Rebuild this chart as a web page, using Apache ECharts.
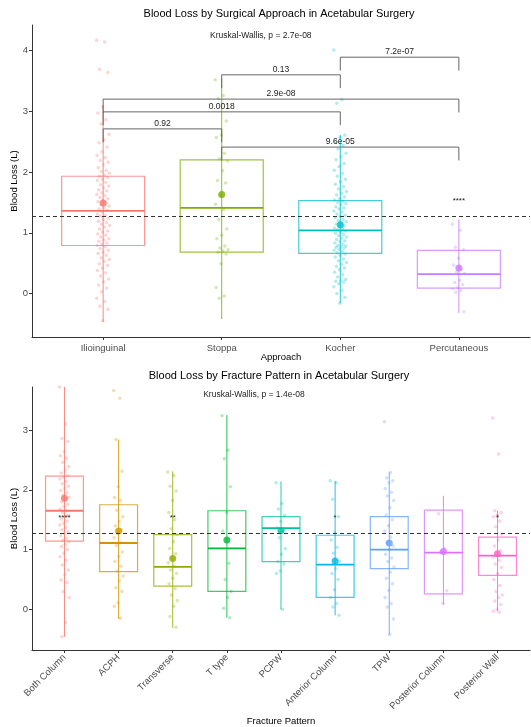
<!DOCTYPE html>
<html>
<head>
<meta charset="utf-8">
<script src="https://cdn.jsdelivr.net/npm/echarts@6/dist/echarts.min.js"></script>
<style>
  html, body { margin: 0; padding: 0; background: #fff; }
  #chart { width: 531px; height: 727px; }
</style>
</head>
<body>
<div id="chart"></div>
<script>
// ---- top panel: surgical approach ----
const approaches = ['Ilioinguinal', 'Stoppa', 'Kocher', 'Percutaneous'];
const apQ1 = [0.79, 0.68, 0.66, 0.09];
const apMedian = [1.36, 1.41, 1.04, 0.32];
const apQ3 = [1.93, 2.20, 1.53, 0.71];
const apMean = [1.49, 1.63, 1.13, 0.42];
const apLow = [-0.47, -0.42, -0.16, -0.32];
const apHigh = [3.10, 3.54, 2.61, 1.22];

const ilioinguinalPts = [4.17, 4.14, 3.69, 3.64, 3.07, 2.97, 2.86, 2.79, 2.62, 2.53, 2.48, 2.41, 2.33, 2.27, 2.24, 2.19, 2.16, 2.12, 2.07, 2.03, 2.01, 1.98, 1.95, 1.93, 1.91, 1.88, 1.86, 1.83, 1.79, 1.77, 1.74, 1.71, 1.69, 1.66, 1.63, 1.61, 1.58, 1.56, 1.53, 1.51, 1.49, 1.46, 1.44, 1.41, 1.39, 1.37, 1.34, 1.31, 1.29, 1.27, 1.24, 1.22, 1.19, 1.17, 1.14, 1.12, 1.09, 1.06, 1.03, 1.01, 0.98, 0.96, 0.93, 0.90, 0.88, 0.86, 0.83, 0.81, 0.79, 0.77, 0.74, 0.71, 0.68, 0.66, 0.63, 0.59, 0.56, 0.53, 0.49, 0.46, 0.42, 0.38, 0.34, 0.29, 0.24, 0.19, 0.14, 0.09, 0.03, -0.08, -0.13, -0.21, -0.26, -0.45];
const stoppaPts = [3.52, 3.26, 3.21, 2.84, 2.61, 2.57, 2.31, 2.22, 2.18, 2.02, 1.86, 1.82, 1.61, 1.47, 1.38, 1.22, 1.06, 0.96, 0.90, 0.78, 0.75, 0.72, 0.70, 0.68, 0.65, 0.49, 0.10, -0.04, -0.08];
const kocherPts = [4.01, 3.19, 3.13, 2.61, 2.57, 2.50, 2.44, 2.38, 2.31, 2.25, 2.20, 2.14, 2.09, 2.03, 1.98, 1.93, 1.88, 1.84, 1.80, 1.76, 1.72, 1.68, 1.65, 1.62, 1.59, 1.56, 1.54, 1.52, 1.50, 1.48, 1.46, 1.43, 1.41, 1.39, 1.36, 1.34, 1.31, 1.29, 1.27, 1.25, 1.22, 1.20, 1.18, 1.16, 1.14, 1.12, 1.10, 1.08, 1.06, 1.05, 1.03, 1.01, 0.99, 0.97, 0.95, 0.93, 0.91, 0.89, 0.87, 0.85, 0.83, 0.81, 0.79, 0.78, 0.77, 0.76, 0.75, 0.73, 0.71, 0.69, 0.67, 0.65, 0.63, 0.60, 0.57, 0.54, 0.51, 0.48, 0.45, 0.42, 0.39, 0.35, 0.31, 0.27, 0.23, 0.21, 0.20, 0.19, 0.16, 0.11, 0.05, 0.00, -0.06, -0.16];
const percutaneousPts = [1.14, 1.04, 0.76, 0.72, 0.58, 0.47, 0.40, 0.36, 0.33, 0.22, 0.18, 0.15, 0.10, 0.08, 0.05, 0.02, -0.30];
const apPoints = [ilioinguinalPts, stoppaPts, kocherPts, percutaneousPts];

// pairwise comparisons
const bracketFrom = [1, 1, 1, 2, 2, 3];
const bracketTo = [2, 3, 4, 3, 4, 4];
const bracketY = [2.71, 2.99, 3.20, 3.60, 2.41, 3.89];
const bracketP = ['0.92', '0.0018', '2.9e-08', '0.13', '9.6e-05', '7.2e-07'];
const apStars = ['', '', '', '****'];

// ---- bottom panel: fracture pattern ----
const fractures = ['Both Column', 'ACPH', 'Transverse', 'T type', 'PCPW', 'Anterior Column', 'TPW', 'Posterior Column', 'Posterior Wall'];
const frQ1 = [1.14, 0.63, 0.39, 0.30, 0.80, 0.20, 0.68, 0.26, 0.57];
const frMedian = [1.65, 1.11, 0.71, 1.02, 1.36, 0.75, 1.00, 0.95, 0.90];
const frQ3 = [2.23, 1.75, 1.25, 1.65, 1.55, 1.24, 1.55, 1.66, 1.21];
const frMean = [1.86, 1.31, 0.85, 1.16, 1.32, 0.81, 1.11, 0.97, 0.93];
const frLow = [-0.46, -0.16, -0.31, -0.14, 0.00, -0.10, -0.42, 0.08, -0.03];
const frHigh = [3.72, 2.84, 2.31, 3.25, 2.14, 2.15, 2.29, 1.90, 1.65];

const bothColumnPts = [3.72, 3.10, 2.86, 2.81, 2.64, 2.57, 2.53, 2.46, 2.39, 2.33, 2.28, 2.24, 2.21, 2.18, 2.14, 2.10, 2.06, 2.02, 1.99, 1.95, 1.91, 1.87, 1.84, 1.80, 1.76, 1.72, 1.68, 1.65, 1.62, 1.58, 1.55, 1.51, 1.48, 1.44, 1.41, 1.37, 1.33, 1.30, 1.27, 1.23, 1.19, 1.16, 1.13, 1.09, 1.05, 1.00, 0.94, 0.88, 0.82, 0.74, 0.66, 0.58, 0.49, 0.45, 0.30, 0.20, -0.22, -0.46];
const acphPts = [3.66, 3.53, 2.84, 2.31, 2.05, 1.87, 1.82, 1.66, 1.55, 1.47, 1.40, 1.33, 1.27, 1.20, 1.12, 1.07, 0.96, 0.88, 0.80, 0.72, 0.64, 0.56, 0.48, 0.36, 0.30, 0.11, 0.05, -0.15];
const transversePts = [2.30, 2.24, 2.06, 1.98, 1.82, 1.62, 1.50, 1.35, 1.25, 1.13, 1.02, 0.93, 0.86, 0.78, 0.72, 0.66, 0.60, 0.52, 0.43, 0.35, 0.24, 0.15, 0.05, -0.12, -0.30];
const tTypePts = [3.24, 2.66, 2.52, 2.05, 1.62, 1.31, 0.77, 0.50, 0.30, 0.20, 0.02, -0.14];
const pcpwPts = [2.12, 1.77, 1.68, 1.57, 1.47, 1.36, 1.31, 1.20, 1.02, 0.92, 0.80, 0.76, 0.64, 0.60, 0.00];
const anteriorColumnPts = [2.15, 2.12, 1.84, 1.55, 1.28, 1.16, 1.04, 0.94, 0.80, 0.68, 0.60, 0.50, 0.33, 0.20, 0.10, 0.04, -0.10];
const tpwPts = [3.14, 2.29, 2.20, 2.15, 2.12, 2.02, 1.96, 1.90, 1.82, 1.70, 1.58, 1.50, 1.40, 1.31, 1.21, 1.12, 1.06, 1.00, 0.92, 0.86, 0.80, 0.71, 0.62, 0.52, 0.43, 0.32, 0.20, 0.10, 0.04, -0.16, -0.42];
const posteriorColumnPts = [1.60, 1.02, 0.97, 0.31, 0.10];
const posteriorWallPts = [3.20, 2.60, 1.65, 1.62, 1.58, 1.55, 1.48, 1.38, 1.26, 1.16, 1.06, 0.98, 0.93, 0.88, 0.82, 0.76, 0.70, 0.60, 0.50, 0.40, 0.30, 0.24, 0.20, 0.14, 0.08, 0.00, -0.03, -0.05];
const frPoints = [bothColumnPts, acphPts, transversePts, tTypePts, pcpwPts, anteriorColumnPts, tpwPts, posteriorColumnPts, posteriorWallPts];
const frStars = ['****', '', '**', '', '', '*', '', '', '*'];

const overallMean = 1.27;
const apKruskal = 'Kruskal-Wallis, p = 2.7e-08';
const frKruskal = 'Kruskal-Wallis, p = 1.4e-08';

// ---- styling ----
const apColors = ['#F8766D', '#7CAE00', '#00BFC4', '#C77CFF'];
const frColors = ['#F8766D', '#D39200', '#93AA00', '#00BA38', '#00C19F', '#00B9E3', '#619CFF', '#DB72FB', '#FF61C3'];
const FONT = '"Liberation Sans", Arial, sans-serif';
const BOX_HALF = 0.35;
const STAR_Y = 1.53;

// spread jittered points sideways (deterministic)
const jit = (i, w) => ((i * 0.618034) % 1 - 0.5) * 2 * w;

function boxSeries(idx, q1, med, q3, lo, hi, colors) {
  return {
    type: 'custom', xAxisIndex: idx, yAxisIndex: idx, clip: true, z: 2, silent: true,
    data: q1.map((v, i) => [i + 1, v, med[i], q3[i], lo[i], hi[i]]),
    encode: { x: 0, y: [1, 2, 3, 4, 5] },
    renderItem: (params, api) => {
      const x = api.value(0);
      const c = colors[params.dataIndex];
      const tl = api.coord([x - BOX_HALF, api.value(3)]);
      const br = api.coord([x + BOX_HALF, api.value(1)]);
      const m0 = api.coord([x - BOX_HALF, api.value(2)]);
      const m1 = api.coord([x + BOX_HALF, api.value(2)]);
      const v0 = api.coord([x, api.value(4)]);
      const v1 = api.coord([x, api.value(5)]);
      return {
        type: 'group', children: [
          { type: 'rect', shape: { x: tl[0], y: tl[1], width: br[0] - tl[0], height: br[1] - tl[1] },
            style: { fill: 'none', stroke: c, lineWidth: 1.2, opacity: 0.75 } },
          { type: 'line', shape: { x1: m0[0], y1: m0[1], x2: m1[0], y2: m1[1] },
            style: { stroke: c, lineWidth: 1.8 } },
          { type: 'line', shape: { x1: v0[0], y1: v0[1], x2: v1[0], y2: v1[1] },
            style: { stroke: c, lineWidth: 1, opacity: 0.85 } }
        ]
      };
    }
  };
}

function pointSeries(idx, groups, colors, w) {
  return groups.map((vals, g) => ({
    type: 'scatter', xAxisIndex: idx, yAxisIndex: idx, z: 3, silent: true,
    symbolSize: 3.5,
    itemStyle: { color: colors[g], opacity: 0.3 },
    data: vals.map((v, i) => [g + 1 + jit(i, w), v])
  }));
}

function meanSeries(idx, means, colors) {
  return {
    type: 'scatter', xAxisIndex: idx, yAxisIndex: idx, z: 4, silent: true,
    symbolSize: 7,
    data: means.map((v, i) => ({ value: [i + 1, v], itemStyle: { color: colors[i] } })),
    markLine: {
      silent: true, symbol: 'none', label: { show: false },
      lineStyle: { type: [4, 3], color: '#333', width: 1 },
      data: [{ yAxis: overallMean }]
    }
  };
}

function textSeries(idx, xs, ys, texts, size, color) {
  return {
    type: 'custom', xAxisIndex: idx, yAxisIndex: idx, z: 5, silent: true,
    data: xs.map((x, i) => [x, ys[i]]),
    renderItem: (params, api) => {
      const p = api.coord([api.value(0), api.value(1)]);
      return { type: 'text', style: { text: texts[params.dataIndex], x: p[0], y: p[1],
        align: 'center', verticalAlign: 'middle', font: size + 'px ' + FONT, fill: color } };
    }
  };
}

function bracketSeries(idx) {
  const tip = 0.22;
  return {
    type: 'custom', xAxisIndex: idx, yAxisIndex: idx, z: 5, silent: true,
    data: bracketFrom.map((f, i) => [f, bracketTo[i], bracketY[i]]),
    encode: { x: [0, 1], y: 2 },
    renderItem: (params, api) => {
      const a = api.value(0), b = api.value(1), y = api.value(2);
      const p0 = api.coord([a, y - tip]), p1 = api.coord([a, y]);
      const p2 = api.coord([b, y]), p3 = api.coord([b, y - tip]);
      const mid = api.coord([(a + b) / 2, y]);
      return {
        type: 'group', children: [
          { type: 'polyline', shape: { points: [p0, p1, p2, p3] },
            style: { stroke: '#666', fill: null, lineWidth: 1 } },
          { type: 'text', style: { text: bracketP[params.dataIndex], x: mid[0], y: mid[1] - 5.5,
            align: 'center', verticalAlign: 'middle', font: '8.5px ' + FONT, fill: '#222' } }
        ]
      };
    }
  };
}

function xAxis(idx, names, max, title, gap, rotate) {
  const ticks = names.map((n, i) => i + 1);
  return {
    gridIndex: idx, type: 'value', min: 0.4, max: max,
    axisLine: { show: true, onZero: false, lineStyle: { color: '#333', width: 1 } },
    axisTick: { show: true, length: 3, customValues: ticks, lineStyle: { color: '#333' } },
    axisLabel: { customValues: ticks, formatter: v => names[Math.round(v) - 1] || '',
      rotate: rotate, margin: 6, color: '#4D4D4D', fontSize: 9.5, fontFamily: FONT },
    splitLine: { show: false },
    name: title, nameLocation: 'middle', nameGap: gap, nameMoveOverlap: false,
    nameTextStyle: { color: '#000', fontSize: 9.5, fontFamily: FONT }
  };
}

function yAxis(idx, min, max, ticks) {
  return {
    gridIndex: idx, type: 'value', min: min, max: max,
    axisLine: { show: true, onZero: false, lineStyle: { color: '#333', width: 1 } },
    axisTick: { show: true, length: 3, customValues: ticks, lineStyle: { color: '#333' } },
    axisLabel: { customValues: ticks, margin: 4, color: '#4D4D4D', fontSize: 9.5, fontFamily: FONT },
    splitLine: { show: false },
    name: 'Blood Loss (L)', nameLocation: 'middle', nameGap: 13, nameMoveOverlap: false,
    nameTextStyle: { color: '#000', fontSize: 9.5, fontFamily: FONT }
  };
}

const chart = echarts.init(document.getElementById('chart'), null, { renderer: 'canvas' });

const option = {
  animation: false,
  backgroundColor: '#fff',
  graphic: [
    { type: 'text', x: 279, y: 14, style: { text: 'Blood Loss by Surgical Approach in Acetabular Surgery',
      align: 'center', verticalAlign: 'middle', font: '11px ' + FONT, fill: '#000' } },
    { type: 'text', x: 279, y: 376, style: { text: 'Blood Loss by Fracture Pattern in Acetabular Surgery',
      align: 'center', verticalAlign: 'middle', font: '11px ' + FONT, fill: '#000' } }
  ],
  grid: [
    { left: 32, right: 1, top: 25, height: 312, outerBoundsMode: 'none', containLabel: false },
    { left: 32, right: 1, top: 387, height: 263, outerBoundsMode: 'none', containLabel: false }
  ],
  xAxis: [
    xAxis(0, approaches, 4.6, 'Approach', 15, 0),
    xAxis(1, fractures, 9.6, 'Fracture Pattern', 66, 45)
  ],
  yAxis: [
    yAxis(0, -0.716, 4.42, [0, 1, 2, 3, 4]),
    yAxis(1, -0.68, 3.72, [0, 1, 2, 3])
  ],
  series: [
    boxSeries(0, apQ1, apMedian, apQ3, apLow, apHigh, apColors),
    ...pointSeries(0, apPoints, apColors, 0.055),
    meanSeries(0, apMean, apColors),
    bracketSeries(0),
    textSeries(0, approaches.map((n, i) => i + 1), approaches.map(() => STAR_Y), apStars, 8, '#222'),
    textSeries(0, [2.33], [4.24], [apKruskal], 8.5, '#222'),

    boxSeries(1, frQ1, frMedian, frQ3, frLow, frHigh, frColors),
    ...pointSeries(1, frPoints, frColors, 0.09),
    meanSeries(1, frMean, frColors),
    textSeries(1, fractures.map((n, i) => i + 1), fractures.map(() => STAR_Y), frStars, 8, '#222'),
    textSeries(1, [4.5], [3.6], [frKruskal], 8.5, '#222')
  ]
};

chart.setOption(option);
window.addEventListener('resize', () => chart.resize());
</script>
</body>
</html>
